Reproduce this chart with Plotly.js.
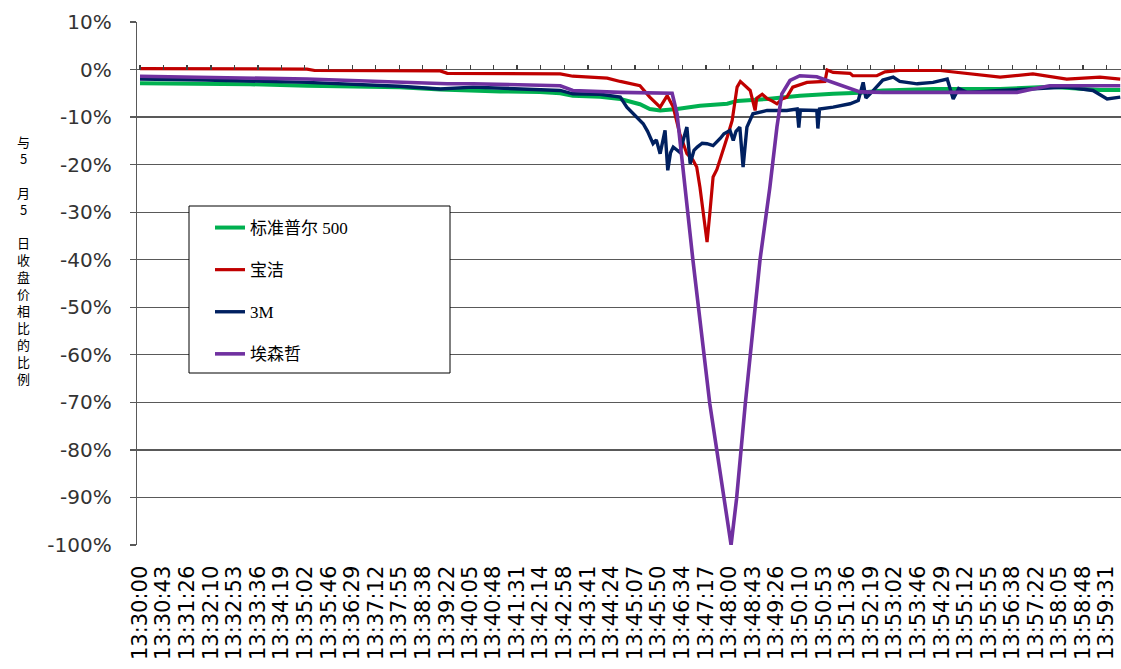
<!DOCTYPE html>
<html><head><meta charset="utf-8">
<script src="https://cdn.plot.ly/plotly-3.0.1.min.js"></script>
<style>html,body{margin:0;padding:0;background:#fff;}#chart{width:1121px;height:669px;}</style>
</head><body><div id="chart"></div>
<script>
const DAY = '2010-05-06 ';

const tickLabels = ['13:30:00','13:30:43','13:31:26','13:32:10','13:32:53','13:33:36','13:34:19','13:35:02','13:35:46','13:36:29','13:37:12','13:37:55','13:38:38','13:39:22','13:40:05','13:40:48','13:41:31','13:42:14','13:42:58','13:43:41','13:44:24','13:45:07','13:45:50','13:46:34','13:47:17','13:48:00','13:48:43','13:49:26','13:50:10','13:50:53','13:51:36','13:52:19','13:53:02','13:53:46','13:54:29','13:55:12','13:55:55','13:56:38','13:57:22','13:58:05','13:58:48','13:59:31'];

const yTickValues = [10,0,-10,-20,-30,-40,-50,-60,-70,-80,-90,-100];

const seriesNames = ['标准普尔 500','宝洁','3M','埃森哲'];

// S&P 500
const spxTime = ['13:30:00','13:31:50','13:33:22','13:35:06','13:36:25','13:37:56','13:39:10','13:40:10','13:41:00','13:42:13','13:42:50','13:43:13','13:43:26','13:44:03','13:44:40','13:45:16','13:45:34','13:45:53','13:46:24','13:47:06','13:47:56','13:48:14','13:49:09','13:50:09','13:51:10','13:51:59','13:52:41','13:54:13','13:56:16','13:57:47','13:59:19','13:59:56'];
const spxValue = [-2.9,-3.0,-3.1,-3.4,-3.5,-3.7,-4.2,-4.5,-4.6,-4.7,-5.0,-5.5,-5.6,-5.7,-6.2,-7.3,-8.3,-8.6,-8.3,-7.6,-7.2,-6.6,-6.2,-5.5,-5.1,-4.9,-4.4,-4.1,-4.1,-3.6,-4.3,-4.3];

// Procter & Gamble
const pgTime = ['13:30:00','13:32:00','13:35:06','13:35:20','13:39:10','13:39:23','13:42:50','13:43:13','13:44:16','13:44:40','13:45:16','13:45:34','13:45:53','13:46:06','13:46:17','13:46:29','13:46:36','13:46:42','13:46:53','13:47:00','13:47:06','13:47:12','13:47:19','13:47:24','13:47:30','13:47:37','13:47:43','13:47:56','13:48:05','13:48:14','13:48:20','13:48:25','13:48:32','13:48:38','13:48:47','13:48:50','13:49:00','13:49:09','13:49:18','13:49:27','13:49:36','13:49:45','13:49:56','13:50:22','13:50:55','13:50:59','13:51:10','13:51:41','13:51:46','13:52:30','13:52:45','13:53:12','13:54:26','13:55:15','13:56:16','13:57:16','13:58:18','13:59:19','13:59:56'];
const pgValue = [0.2,0.2,0.1,-0.2,-0.3,-0.8,-0.9,-1.4,-1.8,-2.5,-3.4,-5.8,-7.9,-5.5,-7.9,-13.5,-16.0,-17.7,-19.0,-20.5,-24.8,-29.7,-36.3,-30.3,-22.6,-21.0,-19.0,-14.2,-10.7,-3.7,-2.5,-3.0,-3.6,-4.4,-8.6,-6.0,-5.2,-6.1,-6.6,-7.2,-6.2,-5.8,-3.7,-2.7,-2.5,-0.1,-0.6,-0.8,-1.3,-1.3,-0.5,-0.2,-0.2,-0.9,-1.6,-0.9,-2.0,-1.6,-2.0];

// 3M
const mmmTime = ['13:30:00','13:32:00','13:35:06','13:37:56','13:39:10','13:40:10','13:42:50','13:43:13','13:44:03','13:44:40','13:44:52','13:45:22','13:45:30','13:45:40','13:45:46','13:45:53','13:46:02','13:46:07','13:46:12','13:46:17','13:46:29','13:46:35','13:46:42','13:46:48','13:46:55','13:47:01','13:47:10','13:47:19','13:47:30','13:47:43','13:47:50','13:48:01','13:48:07','13:48:12','13:48:19','13:48:25','13:48:32','13:48:43','13:49:09','13:49:45','13:50:04','13:50:07','13:50:10','13:50:40','13:50:42','13:50:45','13:51:10','13:51:41','13:51:56','13:52:05','13:52:10','13:52:23','13:52:41','13:53:00','13:53:12','13:53:44','13:54:13','13:54:39','13:54:50','13:55:00','13:55:15','13:56:16','13:57:16','13:58:18','13:59:06','13:59:32','13:59:56'];
const mmmValue = [-2.0,-2.2,-2.7,-3.5,-4.1,-3.7,-4.4,-5.1,-5.2,-5.8,-7.9,-11.4,-13.0,-15.6,-14.8,-17.7,-12.8,-21.2,-17.5,-16.3,-17.4,-15.0,-12.1,-19.8,-17.0,-16.3,-15.5,-15.6,-16.0,-14.5,-13.5,-12.8,-14.9,-13.0,-12.1,-20.5,-12.1,-9.3,-8.6,-8.6,-8.3,-12.2,-8.5,-8.6,-12.4,-8.3,-7.9,-7.2,-6.5,-2.7,-6.0,-4.5,-2.2,-1.6,-2.5,-3.0,-2.7,-2.0,-6.2,-4.0,-4.8,-4.4,-4.1,-3.7,-4.4,-6.2,-5.8];

// Accenture
const acnTime = ['13:30:00','13:35:06','13:39:23','13:40:10','13:42:50','13:43:13','13:44:40','13:46:15','13:46:24','13:46:53','13:47:24','13:47:37','13:47:49','13:48:03','13:48:13','13:48:21','13:48:29','13:48:56','13:49:14','13:49:27','13:49:36','13:49:51','13:50:09','13:50:40','13:51:10','13:51:41','13:51:59','13:52:41','13:53:12','13:56:47','13:57:16','13:57:47','13:59:56'];
const acnValue = [-1.4,-2.0,-3.0,-3.0,-3.4,-4.4,-4.8,-5.0,-9.3,-40.0,-70.3,-80.1,-90.3,-100,-90.3,-80.1,-70.3,-40.0,-24.8,-12.1,-5.1,-2.3,-1.3,-1.5,-2.7,-4.1,-4.7,-4.8,-4.8,-4.8,-4.1,-3.4,-3.4];

const yTitleText = ['与','5','','月','5','','日','收','盘','价','相','比','的','比','例'].join('<br>');

const colors = ['#00b050','#c00000','#002060','#7030a0'];
const widths = [4,3.2,3.4,3.6];
const times = [spxTime, pgTime, mmmTime, acnTime];
const values = [spxValue, pgValue, mmmValue, acnValue];

const traces = seriesNames.map((name, i) => ({
  type: 'scatter', mode: 'lines', name: name, legendgroup: 'g' + i,
  x: times[i].map(t => DAY + t), y: values[i],
  line: {color: colors[i], width: widths[i]}
}));

const W = 1121, H = 669, L = 137, R = 0, T = 22, B = 124;
const pw = W - L - R, ph = H - T - B;
const px2x = p => (p - L) / pw;
const py2y = p => (H - B - p) / ph;
const xRange = [DAY + '13:29:54.5', DAY + '13:59:57.4'];
const yRange = [-100, 10];
const zeroPos = (0 - yRange[0]) / (yRange[1] - yRange[0]);

const layout = {
  width: W, height: H,
  margin: {l: L, r: R, t: T, b: B},
  paper_bgcolor: '#fff', plot_bgcolor: '#fff',
  showlegend: true,
  xaxis: {
    type: 'date', range: xRange,
    anchor: 'free', position: zeroPos,
    tickmode: 'array', tickvals: tickLabels.map(t => DAY + t), ticktext: tickLabels,
    tickangle: -90, ticks: 'inside', ticklen: 5, tickwidth: 1.3, tickcolor: '#404040',
    showgrid: false, zeroline: false, showline: false,
    tickfont: {family: "'DejaVu Sans', sans-serif", size: 21, color: '#000'},
    ticklabelstandoff: 491, automargin: false
  },
  yaxis: {
    range: yRange, tickmode: 'array', tickvals: yTickValues,
    ticktext: yTickValues.map(v => String(v) + '%'),
    showgrid: true, gridcolor: '#595959', gridwidth: 1.3,
    showline: true, linecolor: '#595959', linewidth: 1.3,
    ticks: 'outside', ticklen: 6, tickcolor: '#595959', tickwidth: 1.3,
    zeroline: false, ticklabelstandoff: 14,
    tickfont: {family: "'DejaVu Sans', sans-serif", size: 20, color: '#333'},
    automargin: false
  },
  legend: {
    x: px2x(210), y: py2y(210), xanchor: 'left', yanchor: 'top',
    bgcolor: 'rgba(0,0,0,0)', borderwidth: 0, tracegroupgap: 17,
    font: {family: "'Liberation Serif', 'Noto Sans CJK SC', serif", size: 17, color: '#000'}
  },
  shapes: [{
    type: 'rect', xref: 'paper', yref: 'paper',
    x0: px2x(189), x1: px2x(450), y0: py2y(373), y1: py2y(206),
    fillcolor: '#fff', line: {color: '#000', width: 1}, layer: 'above'
  }],
  annotations: [{
    xref: 'paper', yref: 'paper', x: px2x(23), y: py2y(260),
    text: yTitleText, showarrow: false, xanchor: 'center', yanchor: 'middle',
    font: {family: "'Noto Sans CJK SC', sans-serif", size: 13, color: '#000'}
  }]
};

Plotly.newPlot('chart', traces, layout, {displayModeBar: false, staticPlot: true});
</script>
</body></html>
